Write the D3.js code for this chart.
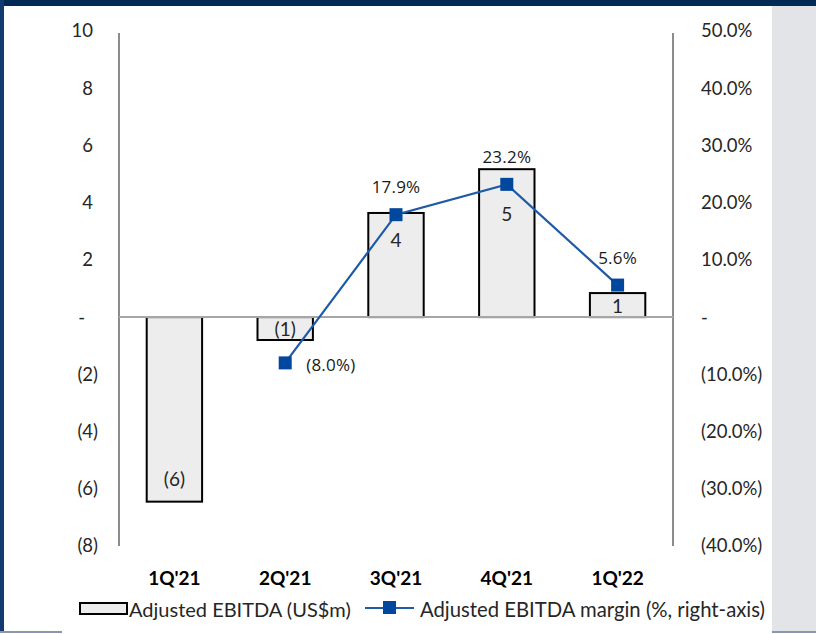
<!DOCTYPE html>
<html>
<head>
<meta charset="utf-8">
<script src="https://cdn.jsdelivr.net/npm/d3@7"></script>
<style>
  html, body { margin: 0; padding: 0; background: #ffffff; }
  svg { display: block; }
</style>
</head>
<body>
<svg id="chart" width="816" height="634"></svg>
<script>
// ---- data ----
const categories = ["1Q'21", "2Q'21", "3Q'21", "4Q'21", "1Q'22"];
const ebitda = [-6.45, -0.8, 3.64, 5.17, 0.84];          // US$m
const margin = [null, -0.080, 0.179, 0.232, 0.056];     // ratio
const leftTicks = [10, 8, 6, 4, 2, 0, -2, -4, -6, -8];
const rightTicks = [0.5, 0.4, 0.3, 0.2, 0.1, 0, -0.1, -0.2, -0.3, -0.4];
const legendLabels = ["Adjusted EBITDA (US$m)", "Adjusted EBITDA margin (%, right-axis)"];

// ---- layout ----
const W = 816, H = 634;
const plot = { left: 119, right: 673, top: 31, bottom: 546 };
const textColor = "#262626";
const numFont = "Lato, 'Open Sans', sans-serif";

const svg = d3.select("#chart");

// frame decoration
svg.append("rect").attr("x", 0).attr("y", 0).attr("width", W).attr("height", H).attr("fill", "#ffffff");
svg.append("rect").attr("x", 772).attr("y", 6).attr("width", W - 772).attr("height", 626).attr("fill", "#E3E4E7");
svg.append("rect").attr("x", 0).attr("y", 0).attr("width", W).attr("height", 6).attr("fill", "#022A55");
svg.append("rect").attr("x", 0).attr("y", 0).attr("width", 4).attr("height", 632).attr("fill", "#123A6E");
svg.append("rect").attr("x", 0).attr("y", 631).attr("width", 62).attr("height", 2).attr("fill", "#8797B3");
svg.append("rect").attr("x", 772).attr("y", 631).attr("width", 44).attr("height", 2).attr("fill", "#8797B3");

// ---- scales ----
const x = d3.scaleBand().domain(categories).range([plot.left, plot.right]).paddingInner(0.5).paddingOuter(0.25);
const yL = d3.scaleLinear().domain([-8, 10]).range([plot.bottom, plot.top]);
const yR = d3.scaleLinear().domain([-0.4, 0.5]).range([plot.bottom, plot.top]);

const fmtAcct = v => v === 0 ? "-" : (v < 0 ? "(" + Math.abs(v) + ")" : String(v));
const fmtPct = v => v === 0 ? "-" : (v < 0 ? "(" + d3.format(".1%")(-v) + ")" : d3.format(".1%")(v));
const fmtRound = v => { const r = Math.round(Math.abs(v)); return v < 0 ? "(" + r + ")" : String(r); };

// ---- axes ----
const leftAxis = d3.axisLeft(yL).tickValues(leftTicks).tickSize(0).tickPadding(0).tickFormat(fmtAcct);
const gL = svg.append("g").attr("transform", `translate(${plot.left},0)`).call(leftAxis);
gL.select(".domain").remove();
gL.selectAll("text")
  .attr("font-family", numFont).attr("font-size", 18.5).attr("fill", textColor)
  .attr("x", d => d < 0 ? -21 : (d === 0 ? -34 : -26));

const rightAxis = d3.axisRight(yR).tickValues(rightTicks).tickSize(0).tickPadding(0).tickFormat(fmtPct);
const gR = svg.append("g").attr("transform", `translate(${plot.right},0)`).call(rightAxis);
gR.select(".domain").remove();
gR.selectAll("text")
  .attr("font-family", numFont).attr("font-size", 18.5).attr("fill", textColor)
  .attr("x", 28);

// axis lines
svg.append("line").attr("x1", plot.left).attr("x2", plot.left).attr("y1", yL(10) + 2).attr("y2", yL(-8))
  .attr("stroke", "#8C8C8C").attr("stroke-width", 2);
svg.append("line").attr("x1", plot.right).attr("x2", plot.right).attr("y1", yL(10) + 2).attr("y2", yL(-8))
  .attr("stroke", "#8C8C8C").attr("stroke-width", 2);

// ---- bars ----
svg.append("g").selectAll("rect").data(ebitda).join("rect")
  .attr("x", (d, i) => x(categories[i]))
  .attr("width", x.bandwidth())
  .attr("y", d => yL(Math.max(0, d)))
  .attr("height", d => Math.abs(yL(d) - yL(0)))
  .attr("fill", "#EDEDED").attr("stroke", "#000000").attr("stroke-width", 2);

// zero line
svg.append("line").attr("x1", plot.left).attr("x2", plot.right).attr("y1", yL(0)).attr("y2", yL(0))
  .attr("stroke", "#A6A6A6").attr("stroke-width", 2);

// bar labels (label offset from the bar's end, in px)
const barLabelShift = [-23, 0, 27, 44, 0];
svg.append("g").selectAll("text").data(ebitda).join("text")
  .attr("x", (d, i) => x(categories[i]) + x.bandwidth() / 2)
  .attr("y", (d, i) => {
    if (barLabelShift[i] === 0) return (yL(d) + yL(0)) / 2;
    return yL(d) + barLabelShift[i];
  })
  .attr("text-anchor", "middle").attr("dominant-baseline", "central")
  .attr("font-family", numFont).attr("font-size", 19).attr("fill", textColor)
  .text(d => fmtRound(d));

// ---- line ----
const pts = margin.map((m, i) => ({ m, c: categories[i] })).filter(p => p.m !== null);
const lineGen = d3.line().x(p => x(p.c) + x.bandwidth() / 2).y(p => yR(p.m));
svg.append("path").datum(pts).attr("d", lineGen)
  .attr("fill", "none").attr("stroke", "#1F5AA6").attr("stroke-width", 2.2);
svg.append("g").selectAll("rect").data(pts).join("rect")
  .attr("x", p => x(p.c) + x.bandwidth() / 2 - 6.5)
  .attr("y", p => yR(p.m) - 6.5)
  .attr("width", 13).attr("height", 13)
  .attr("fill", "#00479D");

svg.append("g").selectAll("text").data(pts).join("text")
  .attr("x", p => x(p.c) + x.bandwidth() / 2 + (p.m < 0 ? 21 : 0))
  .attr("y", p => yR(p.m) + (p.m < 0 ? 2 : -28))
  .attr("text-anchor", p => p.m < 0 ? "start" : "middle")
  .attr("dominant-baseline", "central")
  .attr("font-family", "'Open Sans', sans-serif").attr("font-size", 17).attr("fill", "#1a1a1a")
  .attr("letter-spacing", 0.2)
  .text(p => fmtPct(p.m));

// ---- category labels ----
svg.append("g").selectAll("text").data(categories).join("text")
  .attr("x", c => x(c) + x.bandwidth() / 2)
  .attr("y", 577)
  .attr("text-anchor", "middle").attr("dominant-baseline", "central")
  .attr("font-family", numFont).attr("font-weight", "bold").attr("font-size", 19).attr("fill", "#000000")
  .text(c => c);

// ---- legend ----
const lg = svg.append("g");
lg.append("rect").attr("x", 80).attr("y", 603).attr("width", 47).attr("height", 11)
  .attr("fill", "#EDEDED").attr("stroke", "#000000").attr("stroke-width", 2);
lg.append("text").attr("x", 129).attr("y", 609).attr("dominant-baseline", "central")
  .attr("font-family", numFont).attr("font-size", 20).attr("fill", textColor).text(legendLabels[0]);
lg.append("line").attr("x1", 365).attr("x2", 414).attr("y1", 608).attr("y2", 608)
  .attr("stroke", "#1F5AA6").attr("stroke-width", 2.2);
lg.append("rect").attr("x", 383).attr("y", 601).attr("width", 13).attr("height", 13).attr("fill", "#00479D");
lg.append("text").attr("x", 420).attr("y", 609).attr("dominant-baseline", "central")
  .attr("font-family", numFont).attr("font-size", 20.3).attr("fill", textColor).text(legendLabels[1]);
</script>
</body>
</html>
